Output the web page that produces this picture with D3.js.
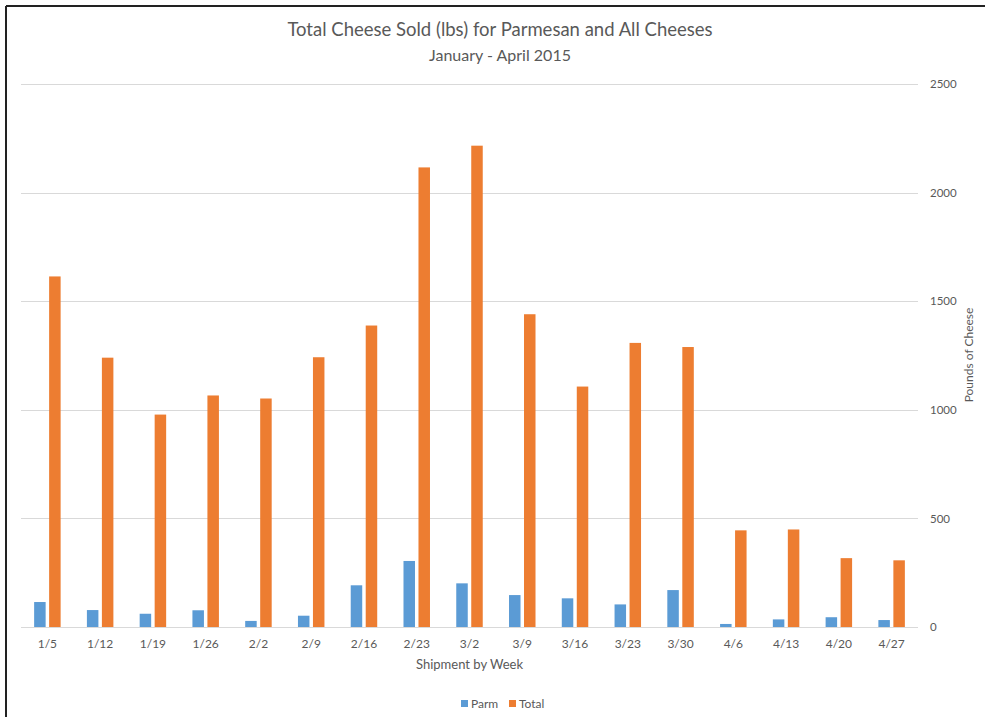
<!DOCTYPE html>
<html lang="en">
<head>
    <meta charset="UTF-8">
    <title>Total Cheese Sold (lbs) for Parmesan and All Cheeses</title>
    <style>
        body {
            margin: 0;
            padding: 0;
            background-color: #fff;
            font-family: Lato, 'Liberation Sans', sans-serif;
        }

        #chart svg {
            display: block;
        }

        .grid line {
            stroke: #d9d9d9;
            stroke-width: 1;
        }

        .tick-label {
            font-size: 11.5px;
            fill: #595959;
        }
    </style>
</head>
<body>

    <div id="chart"></div>

    <script src="https://d3js.org/d3.v7.min.js"></script>
    <script>
        const weeks = ["1/5", "1/12", "1/19", "1/26", "2/2", "2/9", "2/16", "2/23", "3/2",
            "3/9", "3/16", "3/23", "3/30", "4/6", "4/13", "4/20", "4/27"];
        const parm = [115, 78, 61, 77, 28, 52, 192, 304, 201, 147, 132, 104, 170, 14, 35, 45, 32];
        const total = [1614, 1240, 978, 1066, 1052, 1242, 1388, 2116, 2216, 1440, 1107, 1308, 1289, 445, 449, 317, 307];
        const seriesNames = ["Parm", "Total"];
        const yTicks = [0, 500, 1000, 1500, 2000, 2500];

        const width = 985;
        const height = 717;
        const colors = { Parm: "#5b9bd5", Total: "#ed7d31" };

        const rows = weeks.map((w, i) => ({ week: w, Parm: parm[i], Total: total[i] }));

        const svg = d3.select("#chart")
            .append("svg")
            .attr("width", width)
            .attr("height", height);

        // frame of the chart area (left and top edges visible)
        svg.append("line")
            .attr("x1", 6).attr("x2", 6).attr("y1", 6).attr("y2", height)
            .attr("stroke", "#222").attr("stroke-width", 2);
        svg.append("line")
            .attr("x1", 6).attr("x2", width).attr("y1", 6).attr("y2", 6)
            .attr("stroke", "#222").attr("stroke-width", 2);

        const x0 = d3.scaleBand()
            .domain(weeks)
            .range([21, 918])
            .paddingInner(0.498)
            .paddingOuter(0.249);

        const x1 = d3.scaleBand()
            .domain(seriesNames)
            .range([0, x0.bandwidth()])
            .paddingInner(0.233);

        const y = d3.scaleLinear()
            .domain([0, 2500])
            .range([627, 84]);

        // gridlines
        svg.append("g")
            .attr("class", "grid")
            .selectAll("line")
            .data(yTicks)
            .enter().append("line")
            .attr("x1", 21)
            .attr("x2", 918)
            .attr("y1", d => Math.round(y(d)) + 0.5)
            .attr("y2", d => Math.round(y(d)) + 0.5);

        // right axis labels
        const yAxis = d3.axisRight(y)
            .tickValues(yTicks)
            .tickFormat(d3.format("d"))
            .tickSize(0)
            .tickPadding(12);

        const yg = svg.append("g")
            .attr("transform", "translate(918,0)")
            .call(yAxis);
        yg.select(".domain").remove();
        yg.selectAll("text")
            .attr("class", "tick-label")
            .attr("font-family", "Lato, sans-serif");

        // bars
        const groups = svg.append("g")
            .selectAll("g")
            .data(rows)
            .enter().append("g")
            .attr("transform", d => `translate(${x0(d.week)},0)`);

        groups.selectAll("rect")
            .data(d => seriesNames.map(k => ({ key: k, value: d[k] })))
            .enter().append("rect")
            .attr("x", d => x1(d.key))
            .attr("y", d => y(d.value))
            .attr("width", x1.bandwidth())
            .attr("height", d => y(0) - y(d.value))
            .attr("fill", d => colors[d.key]);

        // x axis
        const xAxis = d3.axisBottom(x0)
            .tickSize(0)
            .tickPadding(12);

        const xg = svg.append("g")
            .attr("transform", "translate(0,627)")
            .call(xAxis);
        xg.select(".domain").remove();
        xg.selectAll("text")
            .attr("font-size", "12px")
            .attr("fill", "#595959")
            .attr("font-family", "Lato, sans-serif");

        svg.append("line")
            .attr("x1", 21).attr("x2", 918)
            .attr("y1", 627.5).attr("y2", 627.5)
            .attr("stroke", "#d9d9d9");

        // titles
        svg.append("text")
            .attr("x", 500)
            .attr("y", 36)
            .attr("text-anchor", "middle")
            .attr("font-size", "18.5px")
            .attr("fill", "#595959")
            .text("Total Cheese Sold (lbs) for Parmesan and All Cheeses");

        svg.append("text")
            .attr("x", 500)
            .attr("y", 61)
            .attr("text-anchor", "middle")
            .attr("font-size", "16px")
            .attr("fill", "#595959")
            .text("January - April 2015");

        svg.append("text")
            .attr("x", 469.5)
            .attr("y", 669)
            .attr("text-anchor", "middle")
            .attr("font-size", "13px")
            .attr("fill", "#595959")
            .text("Shipment by Week");

        svg.append("text")
            .attr("transform", "translate(973,355) rotate(-90)")
            .attr("text-anchor", "middle")
            .attr("font-size", "12px")
            .attr("fill", "#595959")
            .text("Pounds of Cheese");

        // legend
        const legendX = [461, 509];
        const legend = svg.append("g")
            .selectAll("g")
            .data(seriesNames)
            .enter().append("g")
            .attr("transform", (d, i) => `translate(${legendX[i]},700)`);

        legend.append("rect")
            .attr("width", 7)
            .attr("height", 7)
            .attr("fill", d => colors[d]);

        legend.append("text")
            .attr("x", 10)
            .attr("y", 7.5)
            .attr("font-size", "12px")
            .attr("fill", "#595959")
            .text(d => d);
    </script>

</body>
</html>
